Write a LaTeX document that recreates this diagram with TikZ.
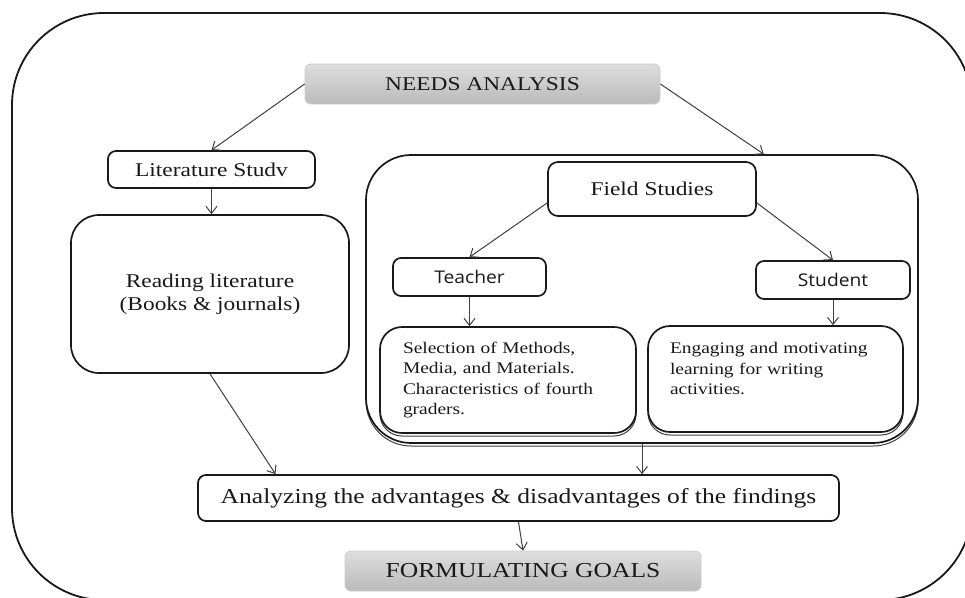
\documentclass[tikz,border=0pt]{standalone}
\usepackage{fontspec}
\setmainfont{Liberation Serif}[FakeStretch=1.2]
\newfontfamily\sansf{Open Sans}[FakeStretch=1.1]
\usetikzlibrary{arrows.meta,calc,shadows}
\begin{document}
\begin{tikzpicture}[x=1pt,y=-1pt,
  box/.style={draw=black!90, line width=1.7pt, fill=white, rounded corners=8pt, inner sep=0pt, text=black!90},
  shadowed/.style={drop shadow={shadow xshift=0pt, shadow yshift=-3pt, fill=white, draw=black!75, line width=1pt, opacity=1}},
  graybox/.style={rounded corners=6pt, draw=black!20, line width=0.8pt, top color=black!13, bottom color=black!27, inner sep=0pt, text=black!90},
  arr/.style={draw=black!75, line width=1pt, -{Straight Barb[length=7pt,width=11pt]}},
  fA/.style={font=\fontsize{19.5}{23}\selectfont},
  fB/.style={font=\fontsize{21.3}{25}\selectfont},
  fS/.style={font=\fontsize{16.2}{20.5}\selectfont},
  fSans/.style={font=\sansf\fontsize{17.5}{20}\selectfont}
]
\useasboundingbox (0,0) rectangle (965,597);
\fill[white] (0,0) rectangle (965,597);
% outer frame
\draw[black!90, line width=1.8pt, rounded corners=92pt] (12,13) rectangle (972,600);

% top
\node[graybox, fA, minimum width=355pt, minimum height=40pt] (needs) at (482.5,84) {NEEDS ANALYSIS};
\node[box, fA, minimum width=207pt, minimum height=37pt] (lit) at (211.5,169.5) {Literature Studv};
\node[box, fA, rounded corners=28pt, minimum width=278pt, minimum height=158pt] (read) at (210,294) {\raisebox{8pt}{\begin{tabular}{@{}c@{}}Reading literature\\(Books \& journals)\end{tabular}}};

% field studies group
\node[box, shadowed, rounded corners=45pt, minimum width=552pt, minimum height=288pt] (field) at (642,299) {};
\node[box, fA, rounded corners=10pt, minimum width=208pt, minimum height=54pt] (fs) at (652,189) {Field Studies};
\node[box, fSans, minimum width=153pt, minimum height=38pt] (teacher) at (469.5,277) {Teacher};
\node[box, fSans, minimum width=154pt, minimum height=38pt] (student) at (833,280) {Student};
\node[box, shadowed, fS, rounded corners=22pt, minimum width=256pt, minimum height=106pt, text width=210pt, align=left] (sel) at (508,380) {Selection of Methods,\\Media, and Materials.\\Characteristics of fourth\\graders.};
\node[box, shadowed, fS, rounded corners=22pt, minimum width=255pt, minimum height=106pt, text width=211pt, align=left] (eng) at (775.5,379) {Engaging and motivating\\learning for writing\\activities.\\\mbox{}};

% bottom
\node[box, fB, minimum width=641pt, minimum height=46pt] (anal) at (518.5,498) {Analyzing the advantages \& disadvantages of the findings};
\node[graybox, fB, minimum width=356pt, minimum height=40pt] (form) at (523,571) {FORMULATING GOALS};

% connectors
\draw[arr] (needs.west) -- (lit.north);
\draw[arr] (needs.east) -- ($(field.north west)!0.72!(field.north east)$);
\draw[arr] (lit.south) -- (lit.south |- read.north);
\draw[arr] (read.south) -- ($(anal.north west)!0.122!(anal.north east)$);
\draw[arr] (field.south) -- (field.south |- anal.north);
\draw[arr] (anal.south) -- (form.north);
\draw[arr] ($(fs.west)!0.5!(fs.south west)$) -- (teacher.north);
\draw[arr] ($(fs.east)!0.5!(fs.south east)$) -- (student.north);
\draw[arr] (teacher.south) -- (teacher.south |- sel.north);
\draw[arr] (student.south) -- (student.south |- eng.north);
\end{tikzpicture}
\end{document}
